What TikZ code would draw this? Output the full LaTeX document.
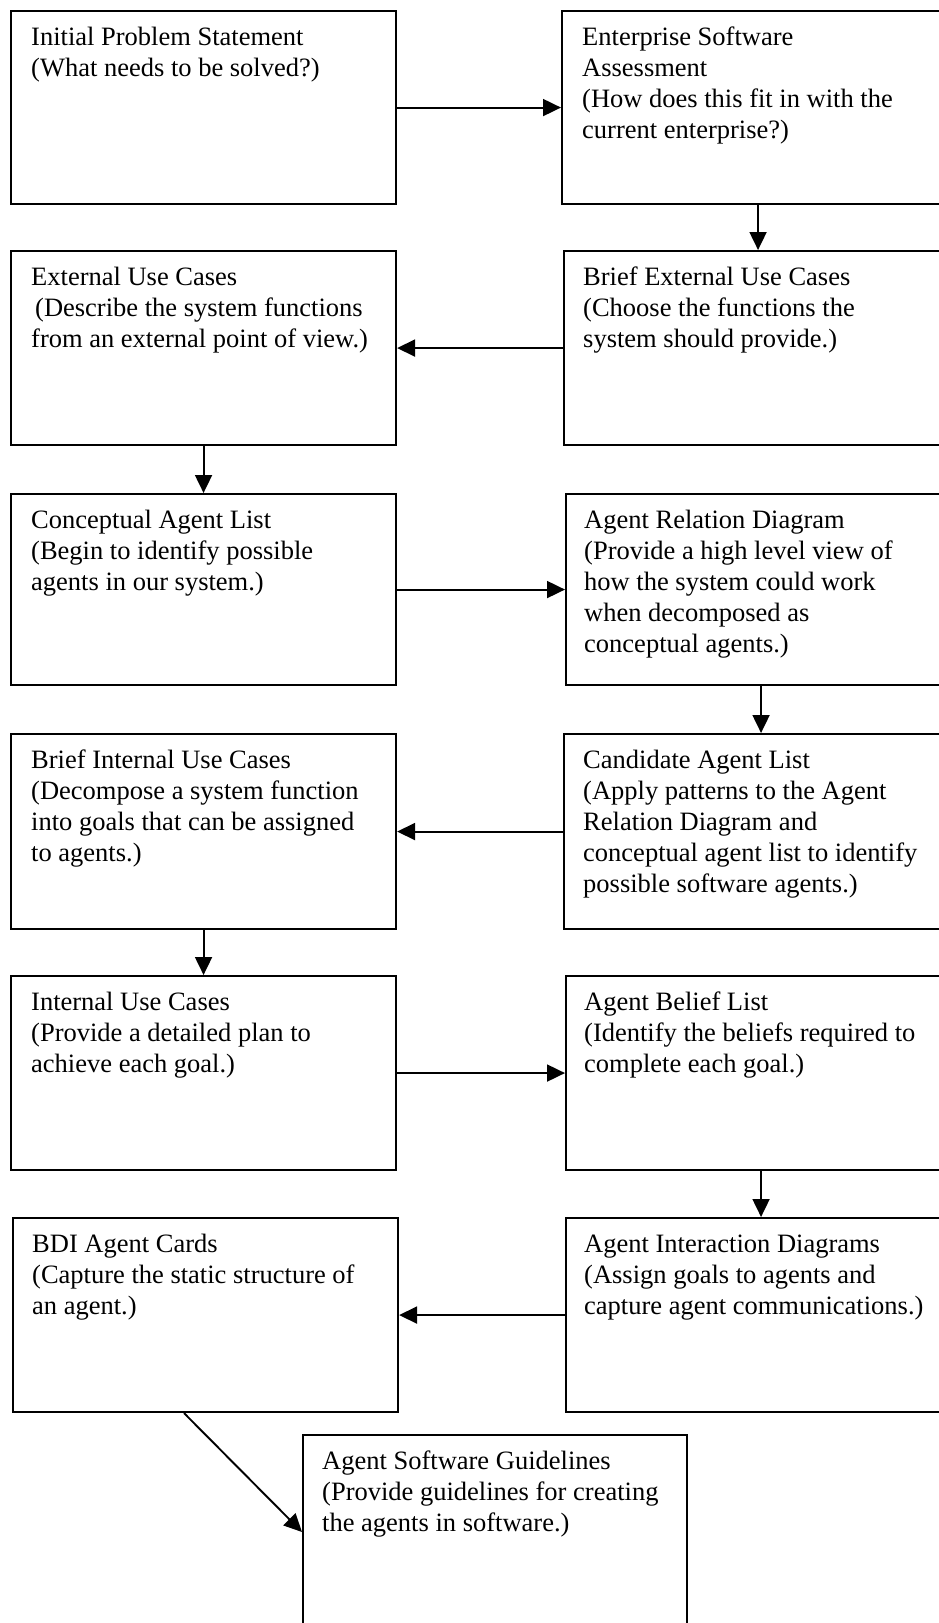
\documentclass[tikz,border=0pt]{standalone}
\usepackage{fontspec}
\setmainfont{Liberation Serif}
\usetikzlibrary{arrows.meta}

\tikzset{
  stagebox/.style={draw=black, line width=2.1pt, rectangle, inner sep=0pt,
    anchor=north west, minimum height=194pt},
  leftbox/.style={stagebox, minimum width=385pt},
  rightbox/.style={stagebox, minimum width=390pt},
  stagetext/.style={anchor=base west, inner sep=0pt,
    font=\fontsize{26.5}{31}\selectfont},
  flow/.style={line width=1.9pt, -{Triangle[length=18pt,width=17pt]}}
}
\newcommand{\stagelines}[1]{\parbox[t]{360pt}{\raggedright #1}}

\begin{document}
\begin{tikzpicture}[x=1pt, y=-1pt]
\useasboundingbox (0,0) rectangle (939,1623);
\fill[white] (0,0) rectangle (939,1623);
\clip (0,0) rectangle (939,1623);

% --- boxes, row by row (left column / right column) ---
\node[leftbox, minimum height=193pt] (ips) at (10,10) {};
\node[rightbox, minimum height=193pt] (esa) at (561,10) {};

\node[leftbox] (euc) at (10,250) {};
\node[rightbox] (beuc) at (563,250) {};

\node[leftbox, minimum height=191pt] (cal) at (10,493) {};
\node[rightbox, minimum height=191pt] (ard) at (565,493) {};

\node[leftbox, minimum height=195pt] (biuc) at (10,733) {};
\node[rightbox, minimum height=195pt] (cand) at (563,733) {};

\node[leftbox] (iuc) at (10,975) {};
\node[rightbox] (abl) at (565,975) {};

\node[leftbox] (bdi) at (12,1217) {};
\node[rightbox] (aid) at (565,1217) {};

\node[stagebox, minimum width=384pt, minimum height=220pt] (asg) at (302,1434) {};

% --- box texts ---
\node[stagetext] (ips-t) at ([shift={(21,35)}]ips.north west)
  {\stagelines{Initial Problem Statement\\(What needs to be solved?)}};
\node[stagetext] (esa-t) at ([shift={(21,35)}]esa.north west)
  {\stagelines{Enterprise Software\\Assessment\\(How does this fit in with the\\current enterprise?)}};

\node[stagetext] (euc-t) at ([shift={(21,35)}]euc.north west)
  {\stagelines{External Use Cases\\\hspace*{4pt}(Describe the system functions\\from an external point of view.)}};
\node[stagetext] (beuc-t) at ([shift={(20,35)}]beuc.north west)
  {\stagelines{Brief External Use Cases\\(Choose the functions the\\system should provide.)}};

\node[stagetext] (cal-t) at ([shift={(21,35)}]cal.north west)
  {\stagelines{Conceptual Agent List\\(Begin to identify possible\\agents in our system.)}};
\node[stagetext] (ard-t) at ([shift={(19,35)}]ard.north west)
  {\stagelines{Agent Relation Diagram\\(Provide a high level view of\\how the system could work\\when decomposed as\\conceptual agents.)}};

\node[stagetext] (biuc-t) at ([shift={(21,35)}]biuc.north west)
  {\stagelines{Brief Internal Use Cases\\(Decompose a system function\\into goals that can be assigned\\to agents.)}};
\node[stagetext] (cand-t) at ([shift={(20,35)}]cand.north west)
  {\stagelines{Candidate Agent List\\(Apply patterns to the Agent\\Relation Diagram and\\conceptual agent list to identify\\possible software agents.)}};

\node[stagetext] (iuc-t) at ([shift={(21,35)}]iuc.north west)
  {\stagelines{Internal Use Cases\\(Provide a detailed plan to\\achieve each goal.)}};
\node[stagetext] (abl-t) at ([shift={(19,35)}]abl.north west)
  {\stagelines{Agent Belief List\\(Identify the beliefs required to\\complete each goal.)}};

\node[stagetext] (bdi-t) at ([shift={(20,35)}]bdi.north west)
  {\stagelines{BDI Agent Cards\\(Capture the static structure of\\an agent.)}};
\node[stagetext] (aid-t) at ([shift={(19,35)}]aid.north west)
  {\stagelines{Agent Interaction Diagrams\\(Assign goals to agents and\\capture agent communications.)}};

\node[stagetext] (asg-t) at ([shift={(20,35)}]asg.north west)
  {\stagelines{Agent Software Guidelines\\(Provide guidelines for creating\\the agents in software.)}};

% --- process flow ---
\draw[flow] (ips.east) -- (esa.west);
\draw[flow] ([xshift=1pt]esa.south) -- ([xshift=1pt]esa.south |- beuc.north);
\draw[flow] (beuc.west) -- (euc.east);
\draw[flow] (euc.south) -- (euc.south |- cal.north);
\draw[flow] (cal.east) -- (ard.west);
\draw[flow] (ard.south) -- (ard.south |- cand.north);
\draw[flow] (cand.west) -- (biuc.east);
\draw[flow] (biuc.south) -- (biuc.south |- iuc.north);
\draw[flow] (iuc.east) -- (abl.west);
\draw[flow] (abl.south) -- (abl.south |- aid.north);
\draw[flow] (aid.west) -- (bdi.east);
\draw[flow] ([xshift=-21.5pt]bdi.south) -- ([yshift=-98pt]asg.north west);
\end{tikzpicture}
\end{document}
